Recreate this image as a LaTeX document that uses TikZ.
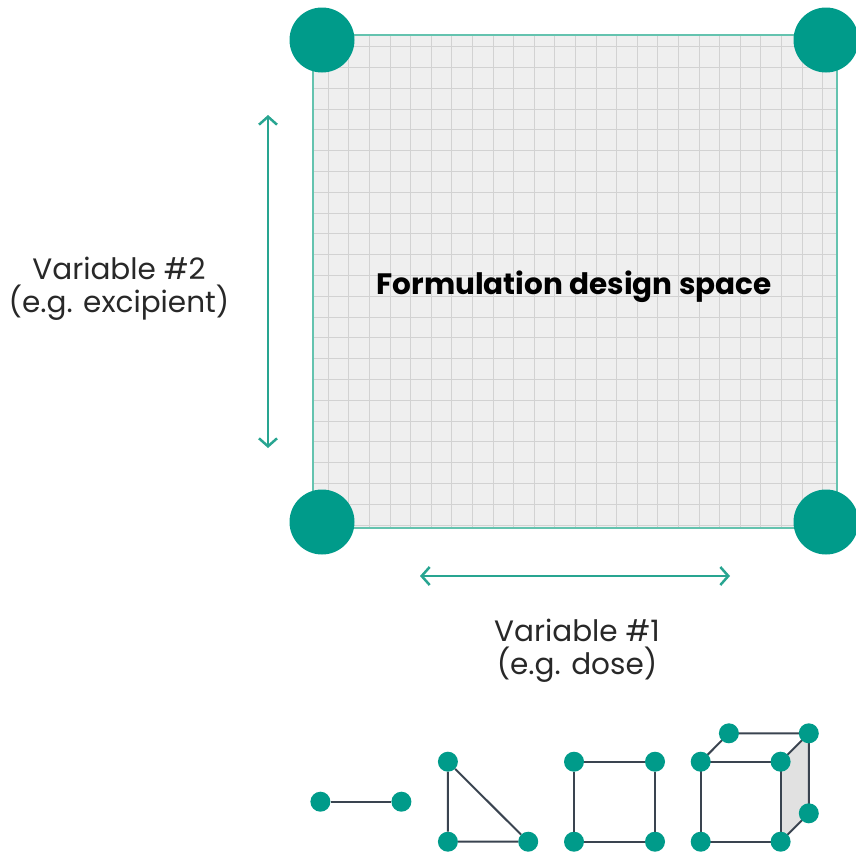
\documentclass[tikz,border=0pt]{standalone}
\usepackage{fontspec}
\setmainfont{Poppins}
\usetikzlibrary{arrows.meta}

\definecolor{teal1}{RGB}{0,155,138}
\definecolor{teal2}{RGB}{40,165,145}
\definecolor{edgeteal}{RGB}{100,195,175}
\definecolor{gridfill}{RGB}{239,239,239}
\definecolor{gridline}{RGB}{210,210,210}
\definecolor{facegray}{RGB}{225,225,225}
\definecolor{slate}{RGB}{58,68,80}
\definecolor{textgray}{RGB}{40,40,40}

\tikzset{
  corner/.style={circle, fill=teal1, inner sep=0pt, minimum size=65pt},
  vdot/.style={circle, fill=teal1, inner sep=0pt, minimum size=20pt},
  vedge/.style={draw=slate, line width=2pt},
  axis/.style={draw=teal2, line width=2.5pt,
    {Straight Barb[length=8pt,width=18pt,line width=2.5pt]}-{Straight Barb[length=8pt,width=18pt,line width=2.5pt]}},
  label/.style={text=textgray, align=center, font=\fontsize{29.5}{33}\selectfont}
}

\begin{document}
\begin{tikzpicture}[x=1pt, y=-1pt]
\useasboundingbox (0,0) rectangle (856,852);

% ======================================
% THE DESIGN SPACE
% ======================================
\coordinate (sqa) at (313,35);
\coordinate (sqb) at (837,528);
\fill[gridfill] (sqa) rectangle (sqb);
\foreach \i in {0,...,24}
  \draw[gridline, line width=0.9pt] (328.3+20.6*\i,35) -- (328.3+20.6*\i,528);
\foreach \j in {0,...,23}
  \draw[gridline, line width=0.9pt] (313,46.7+20.8*\j) -- (837,46.7+20.8*\j);
\draw[edgeteal, line width=2pt] (sqa) rectangle (sqb);

\node (fds) at (574,287) {\fontsize{29.5}{33}\selectfont\bfseries Formulation design space};

% corners
\node[corner] (tl) at (322,40) {};
\node[corner] (tr) at (826,40) {};
\node[corner] (bl) at (322,522) {};
\node[corner] (br) at (826,522) {};

% ======================================
% THE TWO AXES
% ======================================
\coordinate (v2a) at (268,115);
\coordinate (v2b) at (268,448);
\draw[axis] (v2a) -- (v2b);
\node[label] (v2) at (119,289) {Variable \#2\\(e.g. excipient)};

\coordinate (v1a) at (420,576);
\coordinate (v1b) at (730,576);
\draw[axis] (v1a) -- (v1b);
\node[label] (v1) at (577,651) {Variable \#1\\(e.g. dose)};

% ======================================
% ICONS: LINE, TRIANGLE, SQUARE, CUBE
% ======================================

% line
\node[vdot] (l1) at (320.4,801.7) {};
\node[vdot] (l2) at (401.4,801.7) {};
\draw[vedge] (l1) -- (l2);

% triangle
\node[vdot] (t1) at (447.9,761.7) {};
\node[vdot] (t2) at (447.9,841.7) {};
\node[vdot] (t3) at (528.2,841.7) {};
\draw[vedge] (t1) -- (t2) -- (t3) -- (t1);

% square
\node[vdot] (s1) at (574,761.7) {};
\node[vdot] (s2) at (655,761.7) {};
\node[vdot] (s3) at (655,841.7) {};
\node[vdot] (s4) at (574,841.7) {};
\draw[vedge] (s1) -- (s2) -- (s3) -- (s4) -- (s1);

% cube
\coordinate (c1) at (700.7,761.7);
\coordinate (c2) at (780.6,761.7);
\coordinate (c3) at (780.6,841.7);
\coordinate (c4) at (700.7,841.7);
\coordinate (c5) at (728.9,733.3);
\coordinate (c6) at (808.8,733.3);
\coordinate (c7) at (808.8,813.3);
\fill[facegray] (c2) -- (c6) -- (c7) -- (c3) -- cycle;
\draw[vedge] (c1) -- (c2) -- (c3) -- (c4) -- cycle;
\draw[vedge] (c1) -- (c5) -- (c6) -- (c7) -- (c3);
\draw[vedge] (c2) -- (c6);
\foreach \c in {c1,c2,c3,c4,c5,c6,c7}
  \node[vdot] (d\c) at (\c) {};

\end{tikzpicture}
\end{document}
